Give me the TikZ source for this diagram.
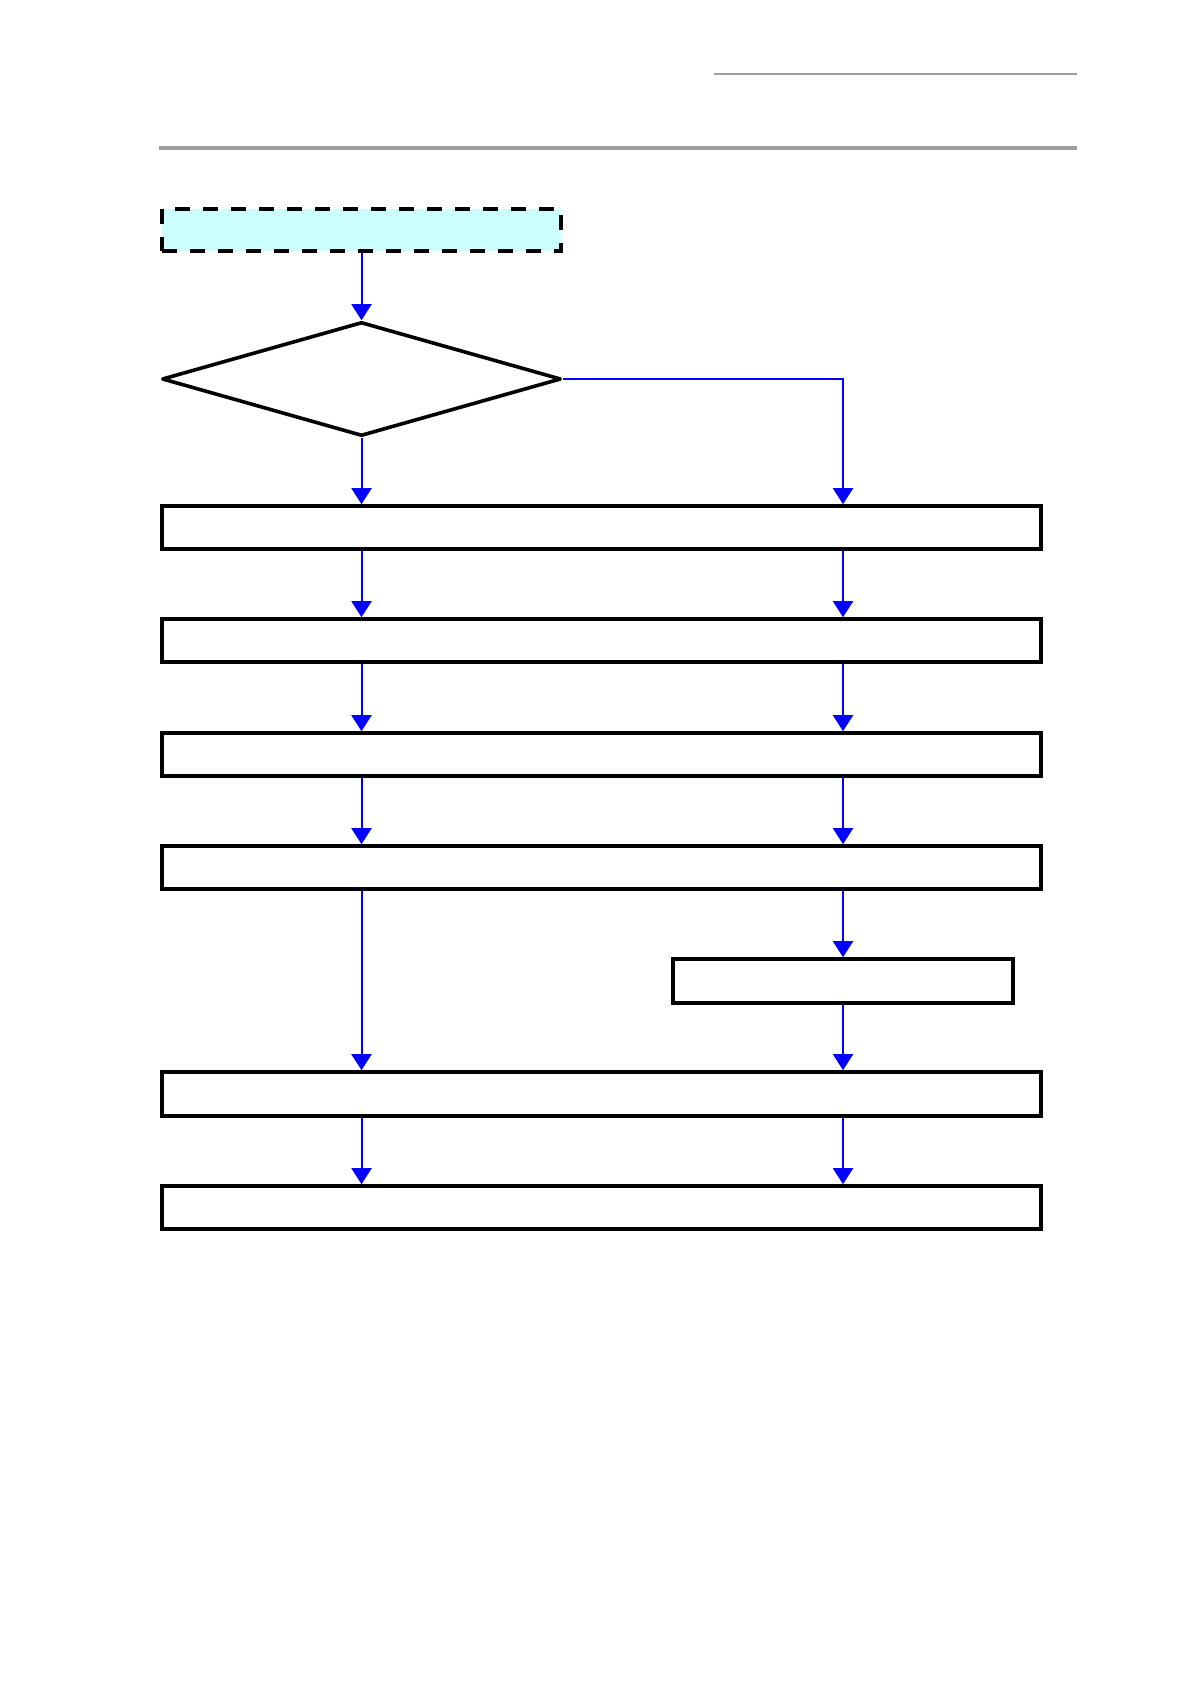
\documentclass[tikz,border=0pt]{standalone}
\usetikzlibrary{arrows.meta,shapes.geometric}
\definecolor{rulegray}{HTML}{A0A0A0}
\definecolor{startfill}{HTML}{CCFFFF}
\tikzset{
  stepbox/.style={draw=black, line width=1.8pt, fill=white, rectangle, inner sep=0pt},
  startbox/.style={stepbox, fill=startfill, dash pattern=on 7.5pt off 6.5pt},
  decision/.style={draw=black, line width=1.8pt, line join=round, fill=white, diamond, inner sep=0pt},
  flow/.style={draw=blue, line width=1pt, -{Triangle[width=10pt,length=8pt]}},
}
\begin{document}
\begin{tikzpicture}[x=0.5pt,y=-0.5pt]
\useasboundingbox (0,0) rectangle (1191,1684);
% header rules
\draw[rulegray, line width=1pt] (714,74) -- (1077,74);
\draw[rulegray, line width=1.75pt] (159,148) -- (1077,148);
% columns
\coordinate (c1) at (361.5,0);
\coordinate (c2) at (843,0);
% nodes
\node[startbox, minimum width=199.5pt, minimum height=21pt] (start) at (361.5,230) {};
\node[decision, minimum width=199.5pt, minimum height=57pt] (dec) at (361.5,379) {};
\node[stepbox, minimum width=439.5pt, minimum height=21.5pt] (b1) at (601.5,527.5) {};
\node[stepbox, minimum width=439.5pt, minimum height=21.5pt] (b2) at (601.5,640.5) {};
\node[stepbox, minimum width=439.5pt, minimum height=21.5pt] (b3) at (601.5,754.5) {};
\node[stepbox, minimum width=439.5pt, minimum height=21.5pt] (b4) at (601.5,867.5) {};
\node[stepbox, minimum width=170pt, minimum height=22pt] (sm) at (843,981) {};
\node[stepbox, minimum width=439.5pt, minimum height=22pt] (b5) at (601.5,1094) {};
\node[stepbox, minimum width=439.5pt, minimum height=21.5pt] (b6) at (601.5,1207.5) {};
% connectors
\draw[flow] (start.south) -- (dec.north);
\draw[flow] (dec.south) -- (dec.south |- b1.north);
\draw[flow] (dec.east) -| (b1.north -| c2);
\draw[flow] (b1.south -| c1) -- (b2.north -| c1);
\draw[flow] (b1.south -| c2) -- (b2.north -| c2);
\draw[flow] (b2.south -| c1) -- (b3.north -| c1);
\draw[flow] (b2.south -| c2) -- (b3.north -| c2);
\draw[flow] (b3.south -| c1) -- (b4.north -| c1);
\draw[flow] (b3.south -| c2) -- (b4.north -| c2);
\draw[flow] (b4.south -| c1) -- (b5.north -| c1);
\draw[flow] (b4.south -| c2) -- (sm.north);
\draw[flow] (sm.south) -- (b5.north -| c2);
\draw[flow] (b5.south -| c1) -- (b6.north -| c1);
\draw[flow] (b5.south -| c2) -- (b6.north -| c2);
\end{tikzpicture}
\end{document}
